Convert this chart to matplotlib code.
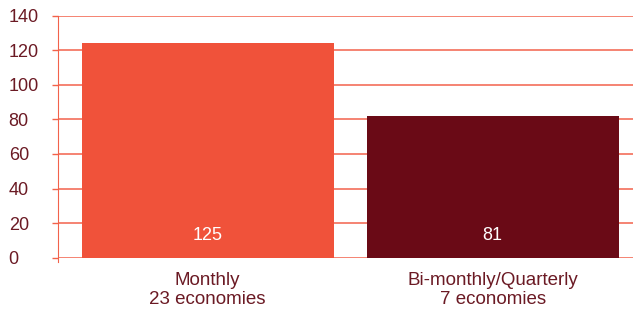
import matplotlib.pyplot as plt

categories = ["Monthly\n23 economies", "Bi-monthly/Quarterly\n7 economies"]
heights = [124.1, 81.9]
value_labels = ["125", "81"]
bar_colors = ["#F0523A", "#6A0A16"]
yticks = [0, 20, 40, 60, 80, 100, 120, 140]

text_color = "#6B1A24"
grid_color = "#F2624B"

plt.rcParams['font.family'] = ['Liberation Sans', 'DejaVu Sans']

fig = plt.figure(figsize=(6.33, 3.12), dpi=100)
ax = fig.add_axes([0.0916, 0.174, 0.9084, 0.7757])

x = list(range(len(categories)))
ax.bar(x, heights, width=0.884, color=bar_colors, zorder=3)
for xi, lab in zip(x, value_labels):
    ax.text(xi, 12.7, lab, color="white", ha="center", va="center",
            fontsize=13, zorder=4)

ax.set_xlim(-0.525, 1.4925)
ax.set_ylim(0, 140)
ax.set_yticks(yticks)
ax.set_xticks(x)
ax.set_xticklabels(categories, color=text_color, fontsize=13.5, linespacing=1.2)
ax.tick_params(axis="x", length=0, pad=10)
ax.tick_params(axis="y", colors=grid_color, labelcolor=text_color,
               labelsize=13, length=4, width=1, pad=31.5)
for lab in ax.get_yticklabels():
    lab.set_horizontalalignment("left")

ax.grid(axis="y", color=grid_color, linewidth=1.1, zorder=1)
for s in ["top", "right", "bottom"]:
    ax.spines[s].set_visible(False)
ax.spines["left"].set_color(grid_color)
ax.spines["left"].set_bounds(-2.5, 140)
ax.set_ylim(0, 140)

fig.savefig("out.png", dpi=100)
